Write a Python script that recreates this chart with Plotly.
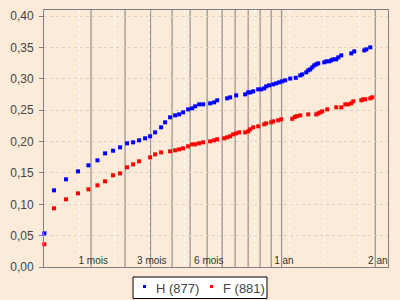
import plotly.graph_objects as go

# x values are in the chart's (non-linear) time-scale units; 1 unit = one white grid step
h_x = [0.01, 0.286, 0.629, 0.971, 1.269, 1.526, 1.743, 1.971, 2.171, 2.371, 2.543, 2.714,
       2.886, 3.029, 3.171, 3.343, 3.457, 3.6, 3.743, 3.857, 3.971, 4.114, 4.229, 4.314,
       4.429, 4.543, 4.743, 4.857, 4.943, 5.229, 5.314, 5.486, 5.743, 5.829, 5.886, 5.971,
       6.114, 6.2, 6.286, 6.343, 6.429, 6.543, 6.629, 6.714, 6.8, 6.886, 7.029, 7.186,
       7.314, 7.371, 7.486, 7.543, 7.6, 7.657, 7.714, 7.771, 7.829, 8.0, 8.057, 8.143,
       8.2, 8.257, 8.343, 8.4, 8.486, 8.771, 8.857, 9.143, 9.2, 9.314]
h_y = [0.0537, 0.1223, 0.1399, 0.1526, 0.1622, 0.1702, 0.1813, 0.1855, 0.1909, 0.1973, 0.1989, 0.2021,
       0.2053, 0.2085, 0.2148, 0.2228, 0.2308, 0.2388, 0.2419, 0.2435, 0.2467, 0.2515, 0.2531, 0.2563,
       0.2595, 0.2595, 0.2611, 0.2627, 0.2659, 0.2691, 0.2707, 0.2738, 0.2754, 0.2786, 0.2786, 0.2802,
       0.2834, 0.2834, 0.2850, 0.2882, 0.2898, 0.2914, 0.2930, 0.2946, 0.2962, 0.2978, 0.3006, 0.3018,
       0.3057, 0.3073, 0.3105, 0.3137, 0.3153, 0.3185, 0.3217, 0.3233, 0.3249, 0.3265, 0.3281, 0.3281,
       0.3297, 0.3313, 0.3313, 0.3345, 0.3376, 0.3408, 0.3440, 0.3456, 0.3472, 0.3504]

f_x = [0.01, 0.286, 0.629, 0.971, 1.269, 1.526, 1.743, 1.971, 2.171, 2.371, 2.543, 2.714,
       3.029, 3.171, 3.343, 3.6, 3.743, 3.857, 3.971, 4.114, 4.229, 4.314, 4.429, 4.543,
       4.743, 4.857, 4.943, 5.143, 5.229, 5.314, 5.4, 5.486, 5.571, 5.743, 5.829, 5.886,
       5.971, 6.114, 6.286, 6.343, 6.486, 6.543, 6.686, 6.771, 7.086, 7.157, 7.22, 7.314,
       7.543, 7.771, 7.829, 7.886, 7.943, 8.086, 8.343, 8.486, 8.6, 8.686, 8.771, 8.829,
       9.057, 9.114, 9.171, 9.314, 9.371]
f_y = [0.0362, 0.0936, 0.1080, 0.1175, 0.1239, 0.1303, 0.1367, 0.1463, 0.1494, 0.1590, 0.1638, 0.1686,
       0.1750, 0.1797, 0.1829, 0.1845, 0.1861, 0.1877, 0.1893, 0.1925, 0.1957, 0.1957, 0.1973, 0.1989,
       0.2005, 0.2021, 0.2037, 0.2053, 0.2069, 0.2085, 0.2116, 0.2132, 0.2148, 0.2148, 0.2164, 0.2196,
       0.2228, 0.2244, 0.2276, 0.2292, 0.2308, 0.2324, 0.2340, 0.2356, 0.2364, 0.2392, 0.2408, 0.2419,
       0.2435, 0.2435, 0.2451, 0.2467, 0.2483, 0.2515, 0.2547, 0.2547, 0.2595, 0.2595, 0.2611, 0.2643,
       0.2659, 0.2675, 0.2675, 0.2691, 0.2707]

series_names = ["H (877)", "F (881)"]
series_colors = ["#0000ff", "#ff0000"]

# month marker lines (1..12 months, 24 months) in scale units
month_pos = [1.343, 2.314, 3.04, 3.657, 4.171, 4.657, 5.086, 5.457, 5.829, 6.171, 6.486, 6.783, 9.457]
period_labels = ["1 mois", "3 mois", "6 mois", "1 an", "2 ans"]
period_label_pos = [1.406, 3.077, 4.706, 6.849, 9.6]
period_label_y = [0.0095] * 5

y_ticks = [0.0, 0.05, 0.10, 0.15, 0.20, 0.25, 0.30, 0.35, 0.40]

BG = "#fbebd8"
fig = go.Figure()

for xs, ys, nm, col in [(h_x, h_y, series_names[0], series_colors[0]),
                        (f_x, f_y, series_names[1], series_colors[1])]:
    fig.add_trace(go.Scatter(x=xs, y=ys, mode="markers", name=nm,
                             marker=dict(symbol="square", size=4, color=col, line=dict(width=0)),
                             cliponaxis=False, showlegend=False))

fig.add_trace(go.Scatter(x=period_label_pos, y=period_label_y, mode="text", text=period_labels,
                         textposition="middle center", cliponaxis=True, showlegend=False,
                         textfont=dict(family="Liberation Sans, Arial", size=10, color="#333333"),
                         hoverinfo="skip"))

shapes = []
for p in month_pos:
    shapes.append(dict(type="line", xref="x", yref="y", x0=p, x1=p, y0=0, y1=0.41,
                       line=dict(color="#9c9893", width=1.3), layer="below"))

# legend box (manual, bottom centre)
def px2xp(px):
    return (px - 44) / 344.0

def py2yp(py):
    return (267 - py) / 257.0

shapes.append(dict(type="rect", xref="paper", yref="paper",
                   x0=px2xp(133), x1=px2xp(267), y0=py2yp(277), y1=py2yp(298.5),
                   fillcolor="white", line=dict(color="black", width=1), layer="above"))
annotations = []
leg_marker_px = [144.5, 211.5]
leg_text_px = [153.5, 221]
for i in range(2):
    shapes.append(dict(type="rect", xref="paper", yref="paper",
                       x0=px2xp(leg_marker_px[i] - 1.5), x1=px2xp(leg_marker_px[i] + 1.5),
                       y0=py2yp(286.5 + 1.5), y1=py2yp(286.5 - 1.5),
                       fillcolor=series_colors[i], line=dict(width=0), layer="above"))
    annotations.append(dict(xref="paper", yref="paper", x=px2xp(leg_text_px[i]), y=py2yp(288),
                            text=series_names[i], showarrow=False, xanchor="left", yanchor="middle",
                            font=dict(family="Liberation Sans, Arial", size=13, color="#444444")))

fig.update_layout(
    width=400, height=300,
    margin=dict(l=44, r=12, t=10, b=33),
    paper_bgcolor=BG, plot_bgcolor=BG,
    separators=", ",
    shapes=shapes, annotations=annotations,
    showlegend=False,
    xaxis=dict(range=[0, 9.82], dtick=1, tick0=0, showticklabels=False, ticks="",
               showgrid=True, gridcolor="white", griddash="3px,3px", gridwidth=1,
               zeroline=False, showline=True, linecolor="#808080", linewidth=1, mirror=True),
    yaxis=dict(range=[0, 0.41], tickvals=y_ticks, tickformat=".2f",
               ticks="outside", ticklen=4, tickcolor="#808080", ticklabelstandoff=3,
               tickfont=dict(family="Liberation Sans, Arial", size=12, color="#444444"),
               showgrid=True, gridcolor="#d9d2c9", griddash="3px,3px", gridwidth=1,
               zeroline=False, showline=True, linecolor="#808080", linewidth=1, mirror=True),
)

fig.write_html("out.html")
